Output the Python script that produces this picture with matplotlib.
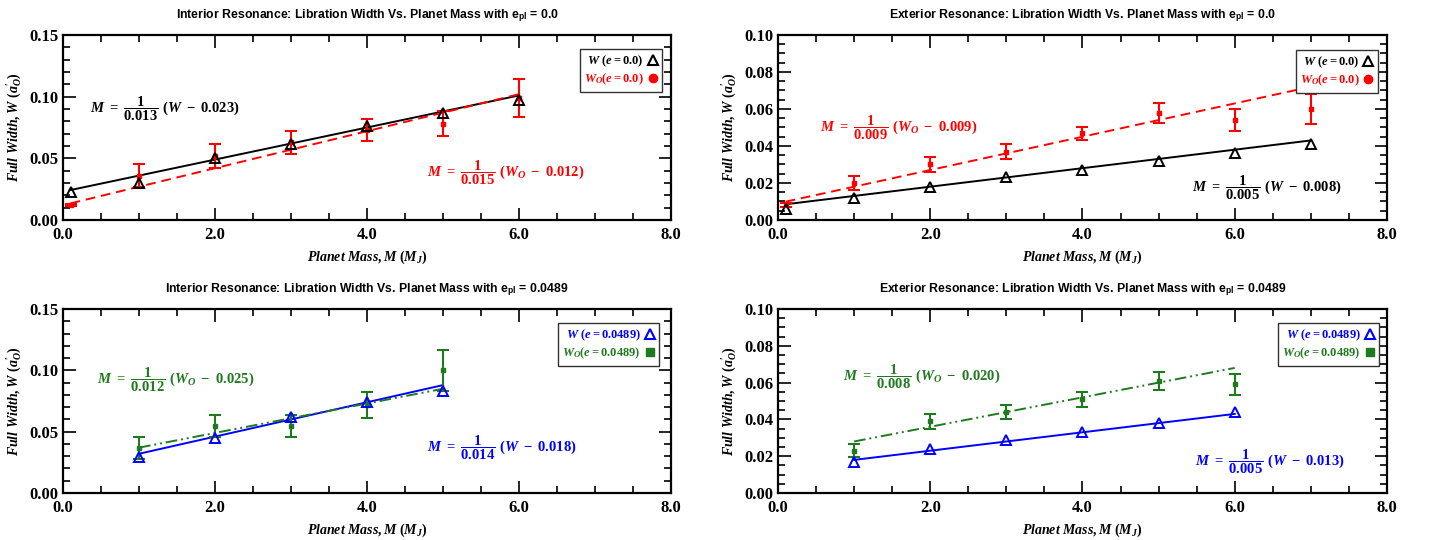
import matplotlib
matplotlib.use('Agg')
import matplotlib.pyplot as plt
import numpy as np
from matplotlib.lines import Line2D
from matplotlib.ticker import MultipleLocator, FormatStrFormatter

# --- data ---
# Interior resonance, e_pl = 0.0
int0_mass = [0.1, 1, 2, 3, 4, 5, 6]
int0_w = [0.023, 0.030, 0.050, 0.062, 0.076, 0.087, 0.097]
int0_w0 = [0.012, 0.036, 0.052, 0.063, 0.073, 0.078, 0.099]
int0_w0_err = [0.001, 0.009, 0.0095, 0.0095, 0.009, 0.010, 0.0155]
int0_fit_w = (0.013, 0.023)     # slope, intercept
int0_fit_w0 = (0.015, 0.012)

# Exterior resonance, e_pl = 0.0
ext0_mass = [0.1, 1, 2, 3, 4, 5, 6, 7]
ext0_w = [0.006, 0.012, 0.018, 0.023, 0.027, 0.032, 0.036, 0.041]
ext0_w0 = [0.008, 0.020, 0.030, 0.037, 0.047, 0.058, 0.054, 0.060]
ext0_w0_err = [0.001, 0.004, 0.004, 0.004, 0.0035, 0.0055, 0.006, 0.008]
ext0_fit_w = (0.005, 0.008)
ext0_fit_w0 = (0.009, 0.009)

# Interior resonance, e_pl = 0.0489
int1_mass = [1, 2, 3, 4, 5]
int1_w = [0.029, 0.045, 0.062, 0.074, 0.083]
int1_w0 = [0.037, 0.055, 0.055, 0.072, 0.100]
int1_w0_err = [0.009, 0.009, 0.009, 0.0105, 0.017]
int1_fit_w = (0.014, 0.018)
int1_fit_w0 = (0.012, 0.025)

# Exterior resonance, e_pl = 0.0489
ext1_mass = [1, 2, 3, 4, 5, 6]
ext1_w = [0.017, 0.024, 0.029, 0.033, 0.038, 0.044]
ext1_w0 = [0.023, 0.039, 0.044, 0.051, 0.061, 0.059]
ext1_w0_err = [0.0035, 0.004, 0.004, 0.004, 0.005, 0.0055]
ext1_fit_w = (0.005, 0.013)
ext1_fit_w0 = (0.008, 0.020)

plt.rcParams['mathtext.fontset'] = 'custom'
plt.rcParams['mathtext.rm'] = 'Liberation Serif:bold'
plt.rcParams['mathtext.it'] = 'Liberation Serif:italic:bold'
plt.rcParams['mathtext.bf'] = 'Liberation Serif:bold'
plt.rcParams['mathtext.sf'] = 'Liberation Sans:bold'
plt.rcParams['mathtext.fallback'] = 'stix'

GREEN = '#1f7a1f'


def eq_text(slope, icpt, sym):
    return (r'$M\ =\ \dfrac{1}{%.3f}\ (%s\ -\ %.3f)$' % (slope, sym, icpt))


def panel(ax, title, ymax, ymajor, yminor, mass, w, w0, w0_err, fit_w, fit_w0,
          c_w, c_w0, ls_w0, m_w0, leg_e, eq_w_pos, eq_w0_pos, leg_anchor):
    mass = np.array(mass)
    xfit = np.array([mass[0], mass[-1]])
    # fitted lines
    ax.plot(xfit, fit_w[1] + fit_w[0] * xfit, color=c_w, lw=1.4, zorder=2)
    ax.plot(xfit, fit_w0[1] + fit_w0[0] * xfit, color=c_w0, lw=1.4,
            linestyle=ls_w0, zorder=2)
    # W0 with error bars
    ax.errorbar(mass, w0, yerr=w0_err, fmt='s', color=c_w0, ms=3.5,
                elinewidth=1.5, capsize=4, capthick=1.5, zorder=3)
    # W open triangles
    ax.plot(mass, w, '^', mfc='none', mec=c_w, ms=6.5, mew=1.4, zorder=4)

    ax.set_xlim(0, 8)
    ax.set_ylim(0, ymax)
    ax.xaxis.set_major_locator(MultipleLocator(2))
    ax.xaxis.set_minor_locator(MultipleLocator(0.5))
    ax.yaxis.set_major_locator(MultipleLocator(ymajor))
    ax.yaxis.set_minor_locator(MultipleLocator(yminor))
    ax.xaxis.set_major_formatter(FormatStrFormatter('%.1f'))
    ax.yaxis.set_major_formatter(FormatStrFormatter('%.2f'))
    ax.tick_params(which='both', direction='in', top=True, right=True, width=1.2)
    ax.tick_params(which='major', length=9)
    ax.tick_params(which='minor', length=5)
    ax.tick_params(axis='x', which='major', pad=5)
    ax.tick_params(axis='y', which='major', pad=3)
    for lab in ax.get_xticklabels() + ax.get_yticklabels():
        lab.set_fontfamily('Liberation Serif')
        lab.set_fontweight('bold')
        lab.set_fontsize(12)
    for sp in ax.spines.values():
        sp.set_linewidth(1.6)

    ax.set_title(title, fontsize=8.8, fontweight='bold',
                 fontfamily='Liberation Sans', pad=12)
    ax.set_xlabel(r'$Planet\ Mass, M\ (M_J)$', fontsize=10, labelpad=4)
    ax.set_ylabel(r"$Full\ Width, W\ (a^{\prime}_O)$", fontsize=10, labelpad=4)

    ax.text(eq_w_pos[0], eq_w_pos[1],
            eq_text(fit_w[0], fit_w[1], 'W'), color=c_w, fontsize=10.5,
            transform=ax.transAxes, va='center', ha='left')
    ax.text(eq_w0_pos[0], eq_w0_pos[1],
            eq_text(fit_w0[0], fit_w0[1], 'W_O'), color=c_w0, fontsize=10.5,
            transform=ax.transAxes, va='center', ha='left')

    handles = [Line2D([], [], marker='^', ls='none', mfc='none', mec=c_w,
                      ms=7, mew=1.5),
               Line2D([], [], marker=m_w0, ls='none', color=c_w0, ms=6)]
    labels = [r'$W\ (e = %s)$' % leg_e, r'$W_O(e = %s)$' % leg_e]
    leg = ax.legend(handles, labels, loc='upper right', bbox_to_anchor=leg_anchor,
                    markerfirst=False, fancybox=False, framealpha=1,
                    edgecolor='#333333', fontsize=9, handlelength=0.8,
                    handletextpad=0.3, borderpad=0.35, labelspacing=0.25,
                    borderaxespad=0)
    leg.get_frame().set_linewidth(1.0)
    for t, c in zip(leg.get_texts(), [c_w, c_w0]):
        t.set_color(c)


fig = plt.figure(figsize=(14.29, 5.40), dpi=100)
ax_tl = fig.add_axes([0.0441, 0.5926, 0.4255, 0.3426])
ax_tr = fig.add_axes([0.5444, 0.5926, 0.4262, 0.3426])
ax_bl = fig.add_axes([0.0441, 0.0870, 0.4255, 0.3407])
ax_br = fig.add_axes([0.5444, 0.0870, 0.4262, 0.3407])

panel(ax_tl, r'Interior Resonance: Libration Width Vs. Planet Mass with e$_{\mathsf{pl}}$ = 0.0',
      0.15, 0.05, 0.01, int0_mass, int0_w, int0_w0, int0_w0_err,
      int0_fit_w, int0_fit_w0, 'black', 'red', (0, (5, 3)), 'o', '0.0',
      (0.044, 0.60), (0.599, 0.254), (0.985, 0.925))
panel(ax_tr, r'Exterior Resonance: Libration Width Vs. Planet Mass with e$_{\mathsf{pl}}$ = 0.0',
      0.10, 0.02, 0.005, ext0_mass, ext0_w, ext0_w0, ext0_w0_err,
      ext0_fit_w, ext0_fit_w0, 'black', 'red', (0, (5, 3)), 'o', '0.0',
      (0.68, 0.173), (0.069, 0.497), (0.985, 0.92))
panel(ax_bl, r'Interior Resonance: Libration Width Vs. Planet Mass with e$_{\mathsf{pl}}$ = 0.0489',
      0.15, 0.05, 0.01, int1_mass, int1_w, int1_w0, int1_w0_err,
      int1_fit_w, int1_fit_w0, 'blue', GREEN, (0, (6, 2, 1, 2, 1, 2)), 's', '0.0489',
      (0.599, 0.245), (0.056, 0.614), (0.98, 0.924))
panel(ax_br, r'Exterior Resonance: Libration Width Vs. Planet Mass with e$_{\mathsf{pl}}$ = 0.0489',
      0.10, 0.02, 0.005, ext1_mass, ext1_w, ext1_w0, ext1_w0_err,
      ext1_fit_w, ext1_fit_w0, 'blue', GREEN, (0, (6, 2, 1, 2, 1, 2)), 's', '0.0489',
      (0.685, 0.168), (0.107, 0.63), (0.987, 0.924))

fig.savefig('out.png', dpi=100)
